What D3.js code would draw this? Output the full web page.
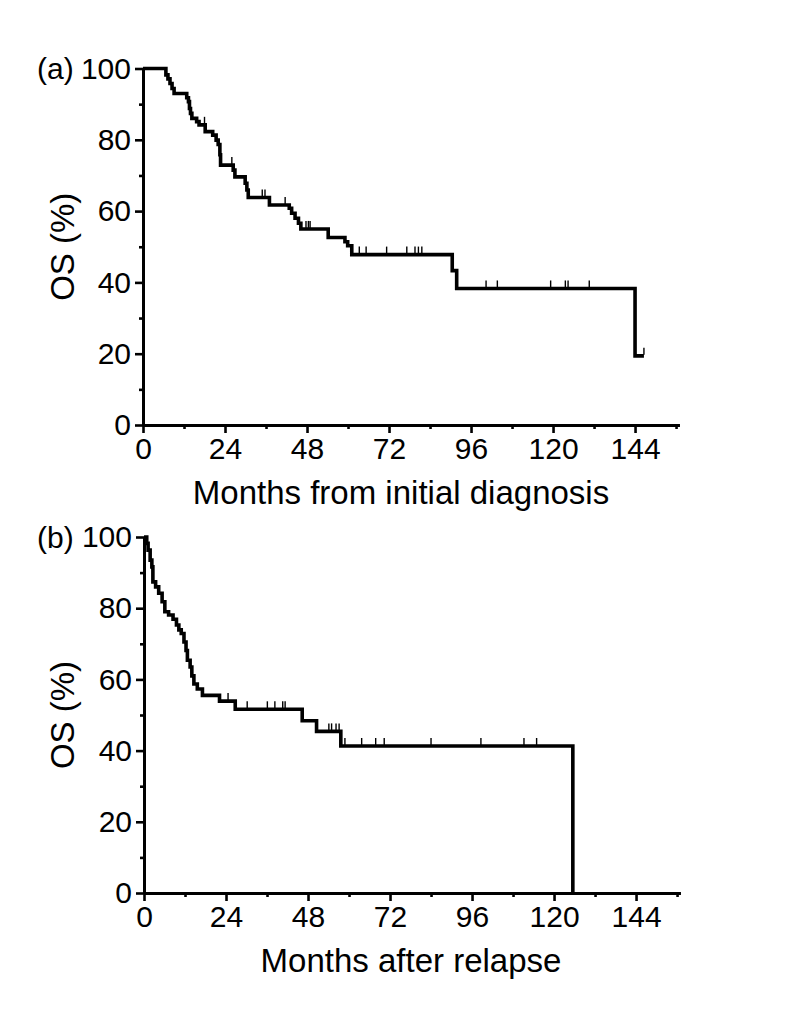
<!DOCTYPE html>
<html>
<head>
<meta charset="utf-8">
<script src="https://cdn.jsdelivr.net/npm/d3@7/dist/d3.min.js"></script>
<style>
  html, body { margin: 0; padding: 0; background: #fff; }
  svg { display: block; }
  text { font-family: "Liberation Sans", Arial, sans-serif; fill: #000; }
</style>
</head>
<body>
<div id="chart"></div>
<script>
// ---- Data ----
const xTicks = [0, 24, 48, 72, 96, 120, 144];
const xMinorTicks = [12, 36, 60, 84, 108, 132, 156];
const yTicks = [0, 20, 40, 60, 80, 100];
const yMinorTicks = [10, 30, 50, 70, 90];

// (a) OS from initial diagnosis: step times (months) and survival (%)
const diagTimes = [0, 6.7, 7.3, 7.9, 8.5, 9.1, 12.8, 13.3, 13.6, 13.9, 14.3, 15.7, 16.4, 18.2, 20.4, 21.4, 22.0, 22.5, 22.7,
  26.4, 26.9, 29.9, 30.4, 30.8, 37.0, 42.8, 43.5, 44.5, 45.5, 46.2, 54.2, 59.1, 59.9, 61.1, 90.5, 91.8, 144.0];
const diagSurv = [100, 98.2, 97.1, 95.8, 94.4, 93.0, 91.8, 90.7, 88.8, 87.4, 86.0, 85.1, 84.2, 82.3, 81.3, 79.9, 78.7, 75.8, 72.9,
  71.5, 69.6, 67.8, 65.9, 63.8, 61.7, 60.8, 59.4, 58.0, 56.6, 55.0, 52.6, 51.4, 50.3, 47.8, 43.3, 38.3, 19.4];
const diagEnd = 146.6;
const diagCensored = [18.0, 26.0, 34.9, 35.7, 41.6, 47.7, 48.4, 48.9, 63.3, 65.3, 71.3, 77.2, 79.6, 80.6, 81.6,
  100.4, 103.7, 119.3, 123.6, 124.4, 130.6, 146.6];

// (b) OS after relapse
const relTimes = [0, 0.8, 1.2, 1.8, 2.3, 2.6, 3.4, 4.3, 5.3, 6.1, 7.2, 8.5, 9.5, 10.2, 10.9, 11.7, 12.3, 12.7, 13.5, 14.0,
  14.6, 15.6, 17.1, 22.1, 26.7, 46.3, 50.5, 57.6, 125.5];
const relSurv = [100, 98.2, 96.3, 93.5, 91.6, 87.4, 86.0, 84.2, 81.8, 79.0, 78.1, 76.9, 75.3, 73.9, 72.9, 70.5, 68.1, 65.4, 63.5, 61.0,
  58.7, 57.3, 55.5, 53.9, 51.6, 48.4, 45.4, 41.3, 0];
const relEnd = 125.5;
const relCensored = [24.6, 30.2, 36.1, 38.3, 40.6, 41.3, 54.1, 54.9, 56.2, 57.1, 58.8, 63.7, 67.8, 70.3, 84.0, 98.6, 111.2, 114.9];

// ---- Drawing ----
const W = 787, H = 1022;
const svg = d3.select("#chart").append("svg").attr("width", W).attr("height", H);

const PX_PER_MONTH = 3.417;
const X_MAX = 157;
const TICK_FONT = 30;
const TITLE_FONT = 33;

function drawPanel(cfg) {
  const g = svg.append("g");
  const x = d3.scaleLinear().domain([0, X_MAX]).range([cfg.x0, cfg.x0 + X_MAX * PX_PER_MONTH]);
  const y = d3.scaleLinear().domain([0, 100]).range([cfg.y0, cfg.y100]);

  // x axis
  g.append("g").attr("transform", `translate(0,${cfg.y0})`)
    .call(d3.axisBottom(x).tickValues(xTicks).tickSize(8).tickSizeOuter(0).tickPadding(5).tickFormat(d3.format("d")));
  g.append("g").attr("transform", `translate(0,${cfg.y0})`)
    .call(d3.axisBottom(x).tickValues(xMinorTicks).tickSize(4).tickSizeOuter(0).tickFormat(""))
    .call(s => s.select(".domain").remove());

  // y axis
  g.append("g").attr("transform", `translate(${cfg.x0},0)`)
    .call(d3.axisLeft(y).tickValues(yTicks).tickSize(8).tickSizeOuter(0).tickPadding(4).tickFormat(d3.format("d")));
  g.append("g").attr("transform", `translate(${cfg.x0},0)`)
    .call(d3.axisLeft(y).tickValues(yMinorTicks).tickSize(4).tickSizeOuter(0).tickFormat(""))
    .call(s => s.select(".domain").remove());

  g.selectAll(".domain").attr("stroke", "#000").attr("stroke-width", 3);
  g.selectAll(".tick line").attr("stroke", "#000").attr("stroke-width", 2.6);
  g.selectAll(".tick text").attr("font-size", TICK_FONT).attr("font-family", "Liberation Sans, Arial, sans-serif").attr("fill", "#000");

  // panel label
  g.append("text").attr("x", 37).attr("y", cfg.y100 + 10.5).attr("font-size", TICK_FONT).text(cfg.label);

  // axis titles
  g.append("text")
    .attr("x", cfg.titleX)
    .attr("y", cfg.y0 + 79)
    .attr("text-anchor", "middle").attr("font-size", TITLE_FONT)
    .text(cfg.xTitle);
  g.append("text")
    .attr("transform", `translate(74,${(cfg.y0 + cfg.y100) / 2}) rotate(-90)`)
    .attr("text-anchor", "middle").attr("font-size", TITLE_FONT)
    .text("OS (%)");

  // KM curve
  const pts = cfg.times.map((t, i) => [t, cfg.surv[i]]);
  if (cfg.end > cfg.times[cfg.times.length - 1]) pts.push([cfg.end, cfg.surv[cfg.surv.length - 1]]);
  const line = d3.line().x(d => x(d[0])).y(d => y(d[1])).curve(d3.curveStepAfter);
  g.append("path").datum(pts).attr("d", line)
    .attr("fill", "none").attr("stroke", "#000").attr("stroke-width", 3.6).attr("stroke-linejoin", "miter");

  // censor marks
  const survAt = t => {
    let s = cfg.surv[0];
    for (let i = 0; i < cfg.times.length; i++) { if (cfg.times[i] <= t) s = cfg.surv[i]; }
    return s;
  };
  g.selectAll(".censor").data(cfg.censored).enter().append("line")
    .attr("x1", d => x(d)).attr("x2", d => x(d))
    .attr("y1", d => y(survAt(d)) - 1).attr("y2", d => y(survAt(d)) - 8)
    .attr("stroke", "#000").attr("stroke-width", 1.4);
}

drawPanel({ x0: 143, y0: 425, y100: 68.5, label: "(a)", xTitle: "Months from initial diagnosis", titleX: 401,
  times: diagTimes, surv: diagSurv, end: diagEnd, censored: diagCensored });
drawPanel({ x0: 144, y0: 893, y100: 537, label: "(b)", xTitle: "Months after relapse", titleX: 411,
  times: relTimes, surv: relSurv, end: relEnd, censored: relCensored });
</script>
</body>
</html>
